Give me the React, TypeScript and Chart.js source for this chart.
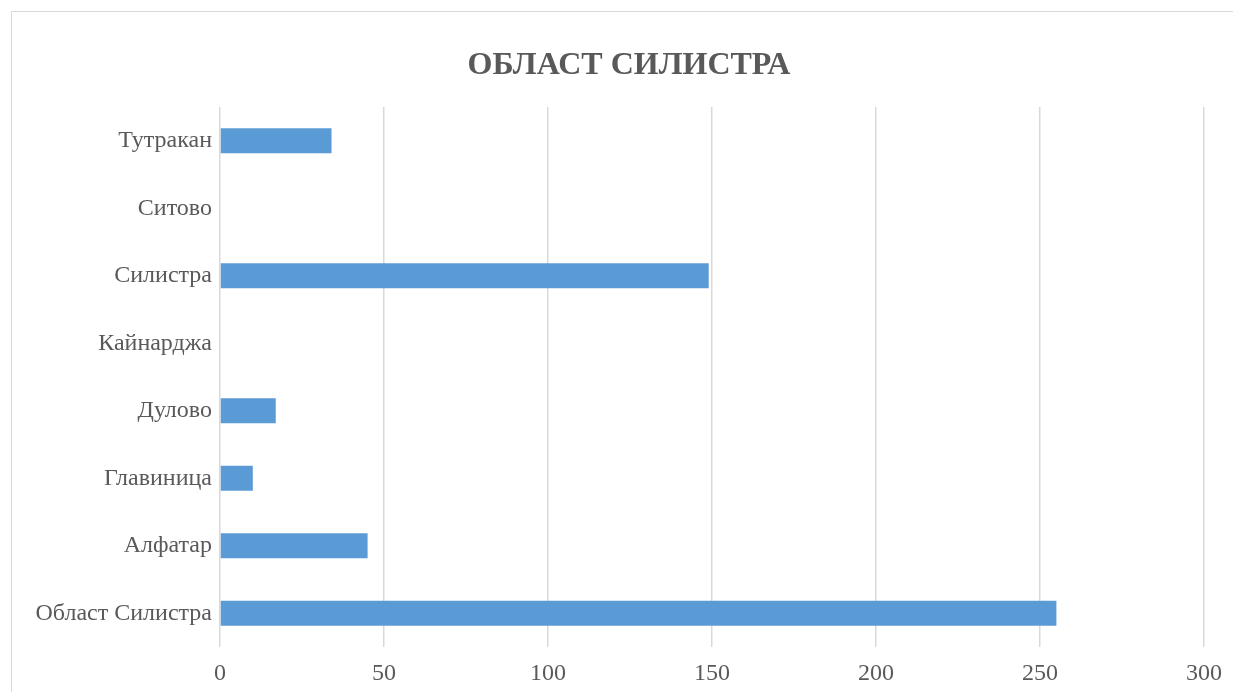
import React, { useEffect, useRef } from "react";
import { Chart, registerables } from "chart.js";

Chart.register(...registerables);

const chartTitle = "ОБЛАСТ СИЛИСТРА";
const categories = [
  "Област Силистра",
  "Алфатар",
  "Главиница",
  "Дулово",
  "Кайнарджа",
  "Силистра",
  "Ситово",
  "Тутракан",
];
const values = [255, 45, 10, 17, 0, 149, 0, 34];
const xMin = 0;
const xMax = 300;
const xStep = 50;

const FONT = "'Liberation Serif', 'Times New Roman', serif";
const TEXT = "#595959";

export default function App() {
  const canvasRef = useRef<HTMLCanvasElement | null>(null);

  useEffect(() => {
    document.documentElement.style.overflow = "hidden";
    document.body.style.overflow = "hidden";
    const canvas = canvasRef.current;
    if (!canvas) return;
    const chart = new Chart(canvas, {
      type: "bar",
      data: {
        labels: categories,
        datasets: [
          {
            data: values,
            backgroundColor: "#5B9BD5",
            borderWidth: 0,
            barPercentage: 0.37,
            categoryPercentage: 1,
          },
        ],
      },
      options: {
        indexAxis: "y",
        responsive: false,
        animation: false,
        devicePixelRatio: 1,
        layout: { padding: { left: 0, right: 1, top: 0, bottom: 19 } },
        plugins: {
          legend: { display: false },
          tooltip: { enabled: false },
          title: {
            display: true,
            text: chartTitle,
            color: TEXT,
            font: { family: FONT, size: 32, weight: "bold", lineHeight: 1.2 },
            padding: { top: 35, bottom: 21.6 },
          },
        },
        scales: {
          x: {
            min: xMin,
            max: xMax,
            ticks: {
              stepSize: xStep,
              color: TEXT,
              font: { family: FONT, size: 24 },
              padding: 12,
            },
            grid: {
              color: "#d9d9d9",
              lineWidth: 1.5,
              drawTicks: false,
            },
            border: { display: false },
            afterFit: (scale: any) => {
              scale.height = 45;
            },
          },
          y: {
            reverse: true,
            ticks: {
              color: TEXT,
              font: { family: FONT, size: 24 },
              padding: 8,
            },
            grid: { display: false, drawTicks: false },
            border: { display: false },
            afterFit: (scale: any) => {
              scale.width = 208;
            },
          },
          yRightSpace: {
            type: "category",
            position: "right",
            ticks: { display: false },
            grid: { display: false, drawTicks: false },
            border: { display: false },
            afterFit: (scale: any) => {
              scale.width = 42;
            },
          },
        },
      },
    });
    return () => chart.destroy();
  }, []);

  return (
    <div
      style={{
        position: "fixed",
        left: 11,
        top: 11,
        width: 1235,
        height: 699,
        borderLeft: "1px solid #d9d9d9",
        borderTop: "1px solid #d9d9d9",
        background: "#fff",
        overflow: "hidden",
      }}
    >
      <canvas
        ref={canvasRef}
        width={1235}
        height={699}
        style={{ display: "block", width: 1235, height: 699 }}
      />
    </div>
  );
}
